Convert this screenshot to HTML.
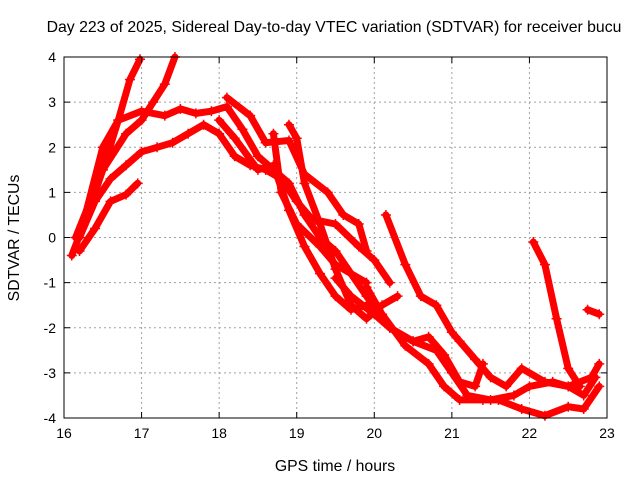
<!DOCTYPE html>
<html><head><meta charset="utf-8"><style>
body{margin:0;background:#fff}
svg{display:block;font-family:"Liberation Sans",sans-serif}
</style></head><body>
<svg id="chart" width="640" height="480">
<text x="334" y="32" font-size="15.8" text-anchor="middle">Day 223 of 2025, Sidereal Day-to-day VTEC variation (SDTVAR) for receiver bucu</text>
<text x="335" y="471" font-size="15.8" text-anchor="middle">GPS time / hours</text>
<text x="19" y="238" font-size="15.8" text-anchor="middle" transform="rotate(-90 19 238)">SDTVAR / TECUs</text>
<g id="grid"></g>
<g id="series"></g>
<rect x="64" y="57" width="543" height="361" fill="none" stroke="#000" stroke-width="1"/>
<g id="ticks"></g>
</svg>
<script>
const xTicks=[16,17,18,19,20,21,22,23];
const yTicks=[-4,-3,-2,-1,0,1,2,3,4];
const s1T=[16.1,16.3,16.5,16.7,16.85,16.98];const s1V=[-0.4,0.5,1.5,2.6,3.5,3.95];
const s2T=[16.15,16.5,16.8,17.0,17.15,17.3,17.43];const s2V=[0,1.5,2.3,2.6,3.0,3.4,4];
const s3T=[16.2,16.5,16.7,17.0,17.3,17.5,17.7,17.9,18.1,18.3,18.5,18.7,18.9,19.1,19.3,19.5,19.7,19.9,20.2,20.5,20.7,20.9,21.1,21.3,21.4];
const s3V=[0,2.0,2.6,2.8,2.7,2.85,2.75,2.8,2.9,2.4,1.8,1.5,1.2,0.5,0,-0.3,-0.8,-1.3,-2.0,-2.3,-2.2,-2.6,-3.2,-3.3,-2.8];
const s4T=[16.2,16.4,16.6,16.8,16.95];const s4V=[-0.3,0.2,0.8,0.95,1.2];
const s5T=[16.2,16.4,16.6,16.8,17.0,17.2,17.4,17.6,17.8,18.0,18.2,18.4,18.6,18.8,19.0,19.2,19.5,19.8,20.0,20.2];
const s5V=[0,0.8,1.3,1.6,1.9,2.0,2.1,2.3,2.5,2.3,1.8,1.6,1.5,1.3,0.8,0.4,0.3,-0.2,-0.5,-1.0];
const s6T=[19.5,19.7,20.0,20.2,20.5,20.8,21.0,21.2,21.5,21.8,22.0,22.3,22.5,22.7,22.85];
const s6V=[-0.9,-1.3,-1.7,-2.0,-2.3,-2.5,-3.0,-3.5,-3.6,-3.5,-3.3,-3.2,-3.3,-3.5,-3.1];
const s7T=[20.15,20.4,20.6,20.8,21.0,21.1,21.3,21.5,21.7,21.9,22.2,22.5,22.8,22.9];
const s7V=[0.5,-0.6,-1.3,-1.5,-2.1,-2.3,-2.7,-3.1,-3.3,-2.9,-3.2,-3.3,-3.1,-2.8];
const s8T=[22.05,22.2,22.35,22.5,22.65];const s8V=[-0.1,-0.6,-1.8,-2.9,-3.3];
const s9T=[22.75,22.9];const s9V=[-1.6,-1.7];
const s10T=[19.9,20.1,20.4,20.7,20.9,21.1,21.4,21.6,21.9,22.2,22.5,22.7,22.9];
const s10V=[-1.1,-1.7,-2.4,-2.8,-3.3,-3.6,-3.6,-3.6,-3.8,-3.95,-3.75,-3.8,-3.3];
const s11T=[18.1,18.4,18.6,18.9,19.1,19.4,19.6,19.8,19.9];const s11V=[3.1,2.7,2.1,2.15,1.4,1.0,0.5,0.3,-0.3];
const s12T=[18.9,19.0,19.1,19.3,19.5,19.7,19.9,20.1,20.3];const s12V=[2.5,2.2,1.2,0.3,-0.7,-1.5,-1.8,-1.5,-1.3];
const s13T=[18.0,18.2,18.5,18.7,18.9,19.1,19.3,19.5,19.7,19.9];const s13V=[2.6,2.2,1.5,1.6,0.6,-0.2,-0.8,-1.3,-1.6,-1.5];
const s14T=[18.7,18.8,19.0,19.3,19.5,19.7,19.9];const s14V=[2.3,1.0,0.3,-0.2,-0.6,-0.8,-1.0];
const seriesT=[s1T,s2T,s3T,s4T,s5T,s6T,s7T,s8T,s9T,s10T,s11T,s12T,s13T,s14T];
const seriesV=[s1V,s2V,s3V,s4V,s5V,s6V,s7V,s8V,s9V,s10V,s11V,s12V,s13V,s14V];

const NS="http://www.w3.org/2000/svg";
const X0=64,X1=607,Y0=418,Y1=57;
const xs=h=>X0+(h-16)/7*(X1-X0);
const ys=v=>Y0-(v+4)/8*(Y0-Y1);
function mk(tag,attrs,parent){const e=document.createElementNS(NS,tag);for(const k in attrs)e.setAttribute(k,attrs[k]);parent.appendChild(e);return e;}
const grid=document.getElementById('grid'),ticks=document.getElementById('ticks'),ser=document.getElementById('series');
xTicks.forEach(t=>{const x=xs(t);
 if(t>16&&t<23){const g=mk('line',{x1:x,x2:x,y1:Y1,y2:Y0,stroke:'#a0a0a0','stroke-dasharray':'2,3'},grid);
 
 }
 mk('line',{x1:x,x2:x,y1:Y0,y2:Y0-6,stroke:'#000'},ticks);mk('line',{x1:x,x2:x,y1:Y1,y2:Y1+6,stroke:'#000'},ticks);
 const l=mk('text',{x:x,y:Y0+20,'font-size':14,'text-anchor':'middle'},ticks);l.textContent=t;
 
 });
yTicks.forEach(t=>{const y=ys(t);
 if(t>-4&&t<4){const g=mk('line',{x1:X0,x2:X1,y1:y,y2:y,stroke:'#a0a0a0','stroke-dasharray':'2,3'},grid);
 
 }
 mk('line',{x1:X0,x2:X0+6,y1:y,y2:y,stroke:'#000'},ticks);mk('line',{x1:X1,x2:X1-6,y1:y,y2:y,stroke:'#000'},ticks);
 const l=mk('text',{x:X0-8,y:y+5,'font-size':14,'text-anchor':'end'},ticks);l.textContent=t;
 
 });
seriesT.forEach((T,i)=>{const V=seriesV[i];
 const pts=T.map((t,j)=>xs(t).toFixed(1)+','+ys(V[j]).toFixed(1)).join(' ');
 const p=mk('polyline',{points:pts,fill:'none',stroke:'#ff0000','stroke-width':7,'stroke-linejoin':'round','stroke-linecap':'round'},ser);
 
 
 T.forEach((t,j)=>{const x=xs(t),y=ys(V[j]);
  const m=mk('path',{d:`M${x-5},${y}H${x+5}M${x},${y-5}V${y+5}`,stroke:'#ff0000','stroke-width':1.5},ser);
  
  });
});
</script>
</body></html>
